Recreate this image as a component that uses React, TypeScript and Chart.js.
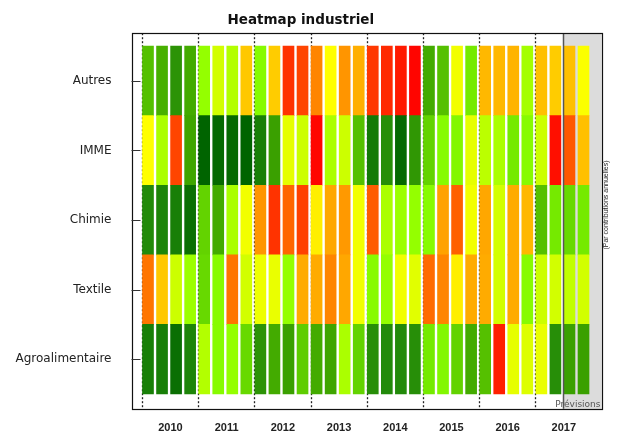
import { useEffect, useRef } from "react";
import { Chart, registerables } from "chart.js";

Chart.register(...registerables);

// Rows, bottom to top
const rowLabels = ["Agroalimentaire", "Textile", "Chimie", "IMME", "Autres"];
const yearLabels = ["2010", "2011", "2012", "2013", "2014", "2015", "2016", "2017"];
const quarterLabels = yearLabels.flatMap((y) => ["T1", "T2", "T3", "T4"].map((q) => `${y} ${q}`));

// Scores: 0 = red (bad) ... 100 = dark green (good), one per quarter 2010T1..2017T4
const agro = [95, 95, 98, 94, 65, 71, 69, 78, 91, 86, 88, 80, 86, 87, 66, 79, 92, 93, 93, 92, 75, 72, 79, 86, 82, 6, 56, 58, 55, 92, 88, 88];
const textile = [24, 42, 61, 68, 78, 71, 24, 60, 54, 55, 69, 35, 35, 27, 34, 53, 71, 69, 53, 57, 22, 27, 48, 35, 35, 60, 35, 71, 61, 60, 63, 60];
const chimie = [93, 94, 95, 98, 79, 86, 66, 53, 30, 10, 21, 13, 48, 34, 31, 53, 19, 66, 68, 69, 71, 33, 20, 53, 34, 60, 35, 38, 82, 75, 78, 75];
const imme = [50, 66, 14, 87, 100, 99, 99, 100, 95, 88, 56, 61, 1, 66, 61, 82, 96, 92, 99, 90, 79, 71, 72, 56, 64, 66, 75, 71, 61, 3, 18, 40];
const autres = [82, 85, 91, 86, 69, 60, 65, 42, 71, 43, 10, 14, 27, 50, 30, 36, 11, 8, 5, 1, 86, 82, 53, 75, 38, 38, 37, 67, 40, 43, 40, 51];

const rowsData = [agro, textile, chimie, imme, autres];

// First forecast quarter index (2017 T3)
const forecastStart = 30;

const colorStops: [number, number, number, number][] = [
  [0, 255, 0, 0],
  [10, 255, 51, 0],
  [20, 255, 96, 0],
  [30, 255, 149, 0],
  [38, 255, 184, 0],
  [44, 255, 208, 0],
  [50, 255, 255, 0],
  [58, 221, 255, 0],
  [64, 187, 255, 0],
  [70, 140, 255, 0],
  [76, 112, 230, 0],
  [82, 85, 192, 0],
  [88, 58, 160, 0],
  [93, 34, 138, 10],
  [100, 0, 100, 0],
];

function colorFor(v: number): string {
  for (let i = 1; i < colorStops.length; i++) {
    const a = colorStops[i - 1];
    const b = colorStops[i];
    if (v <= b[0]) {
      const t = (v - a[0]) / (b[0] - a[0] || 1);
      const r = Math.round(a[1] + (b[1] - a[1]) * t);
      const g = Math.round(a[2] + (b[2] - a[2]) * t);
      const bl = Math.round(a[3] + (b[3] - a[3]) * t);
      return `rgb(${r},${g},${bl})`;
    }
  }
  const l = colorStops[colorStops.length - 1];
  return `rgb(${l[1]},${l[2]},${l[3]})`;
}

const decorPlugin = {
  id: "decor",
  beforeDatasetsDraw(chart: any) {
    const { ctx, chartArea, scales } = chart;
    const xs = scales.x;
    ctx.save();
    // forecast shaded zone
    const fx = xs.getPixelForValue(forecastStart - 0.45);
    ctx.fillStyle = "#dcdcdc";
    ctx.fillRect(fx, chartArea.top, chartArea.right - fx, chartArea.bottom - chartArea.top);
    // dotted year separators
    ctx.strokeStyle = "#222";
    ctx.lineWidth = 1.3;
    ctx.setLineDash([2, 2]);
    for (let k = 0; k < yearLabels.length; k++) {
      const px = Math.round(xs.getPixelForValue(4 * k - 0.42)) + 0.5;
      ctx.beginPath();
      ctx.moveTo(px, chartArea.top);
      ctx.lineTo(px, chartArea.bottom);
      ctx.stroke();
    }
    ctx.restore();
  },
  afterDatasetsDraw(chart: any) {
    const { ctx, chartArea, scales } = chart;
    const xs = scales.x;
    const ys = scales.y;
    ctx.save();
    // forecast separator
    const fx = Math.round(xs.getPixelForValue(forecastStart - 0.45)) + 0.5;
    ctx.strokeStyle = "#555";
    ctx.lineWidth = 1.5;
    ctx.beginPath();
    ctx.moveTo(fx, chartArea.top);
    ctx.lineTo(fx, chartArea.bottom);
    ctx.stroke();
    // border
    ctx.strokeStyle = "#111";
    ctx.lineWidth = 1.2;
    ctx.strokeRect(
      Math.round(chartArea.left) + 0.5,
      Math.round(chartArea.top) + 0.5,
      Math.round(chartArea.right - chartArea.left),
      Math.round(chartArea.bottom - chartArea.top)
    );
    // inward y tick marks
    ctx.strokeStyle = "#333";
    ctx.lineWidth = 1;
    rowLabels.forEach((_, i) => {
      const py = Math.round(ys.getPixelForValue(i + 0.5)) + 0.5;
      ctx.beginPath();
      ctx.moveTo(chartArea.left, py);
      ctx.lineTo(chartArea.left + 9, py);
      ctx.stroke();
    });
    // "Prévisions" label
    ctx.fillStyle = "#555";
    ctx.font = "9px 'DejaVu Sans'";
    ctx.textAlign = "right";
    ctx.textBaseline = "middle";
    ctx.fillText("Prévisions", chartArea.right - 1, chartArea.bottom - 4.5);
    // right side rotated note
    ctx.translate(chartArea.right + 5, 205);
    ctx.rotate(-Math.PI / 2);
    ctx.fillStyle = "#222";
    ctx.font = "7px 'Liberation Sans'";
    ctx.textAlign = "center";
    ctx.textBaseline = "middle";
    ctx.fillText("(Par contributions annuelles)", 0, 0);
    ctx.restore();
  },
};

export default function App() {
  const ref = useRef<HTMLCanvasElement | null>(null);

  useEffect(() => {
    if (!ref.current) return;
    const datasets = rowsData.map((vals, r) => ({
      label: rowLabels[r],
      data: vals.map((v, i) => ({ x: i, y: [r, r + 1], q: quarterLabels[i], v })),
      backgroundColor: vals.map((v) => colorFor(v)),
      borderWidth: 0,
      barThickness: 11,
      grouped: false,
    }));

    const chart = new Chart(ref.current, {
      type: "bar",
      data: { datasets } as any,
      plugins: [decorPlugin],
      options: {
        animation: false,
        responsive: true,
        maintainAspectRatio: false,
        layout: { padding: { left: 0, right: 16.5, top: 0, bottom: 0 } },
        plugins: {
          legend: { display: false },
          tooltip: { enabled: false },
          title: {
            display: true,
            text: "Heatmap industriel",
            color: "#111",
            font: { family: "'DejaVu Sans'", size: 13.5, weight: "bold" },
            padding: { top: 12, bottom: 5 },
          },
        },
        scales: {
          x: {
            type: "linear",
            min: -1.174,
            max: 32.28,
            offset: false,
            grid: { display: false, drawTicks: false },
            border: { display: false },
            afterBuildTicks: (s: any) => {
              s.ticks = yearLabels.map((_, k) => ({ value: 4 * k + 1.6 }));
            },
            afterFit: (s: any) => {
              s.height = 25;
            },
            ticks: {
              autoSkip: false,
              maxRotation: 0,
              padding: 13,
              color: "#222",
              font: { family: "'Liberation Sans'", size: 11, weight: "bold" },
              callback: (_v: any, idx: number) => yearLabels[idx],
            },
          },
          y: {
            type: "linear",
            min: -0.214,
            max: 5.186,
            grid: { display: false, drawTicks: false },
            border: { display: false },
            afterBuildTicks: (s: any) => {
              s.ticks = rowLabels.map((_, i) => ({ value: i + 0.5 }));
            },
            afterFit: (s: any) => {
              s.width = 131.5;
            },
            ticks: {
              autoSkip: false,
              padding: 20,
              color: "#222",
              font: { family: "'DejaVu Sans'", size: 12 },
              callback: (_v: any, idx: number) => rowLabels[idx],
            },
          },
        },
      } as any,
    });
    return () => chart.destroy();
  }, []);

  return (
    <div style={{ position: "fixed", left: 0, top: 0, width: 618, height: 436, background: "#fff" }}>
      <canvas ref={ref} />
    </div>
  );
}
